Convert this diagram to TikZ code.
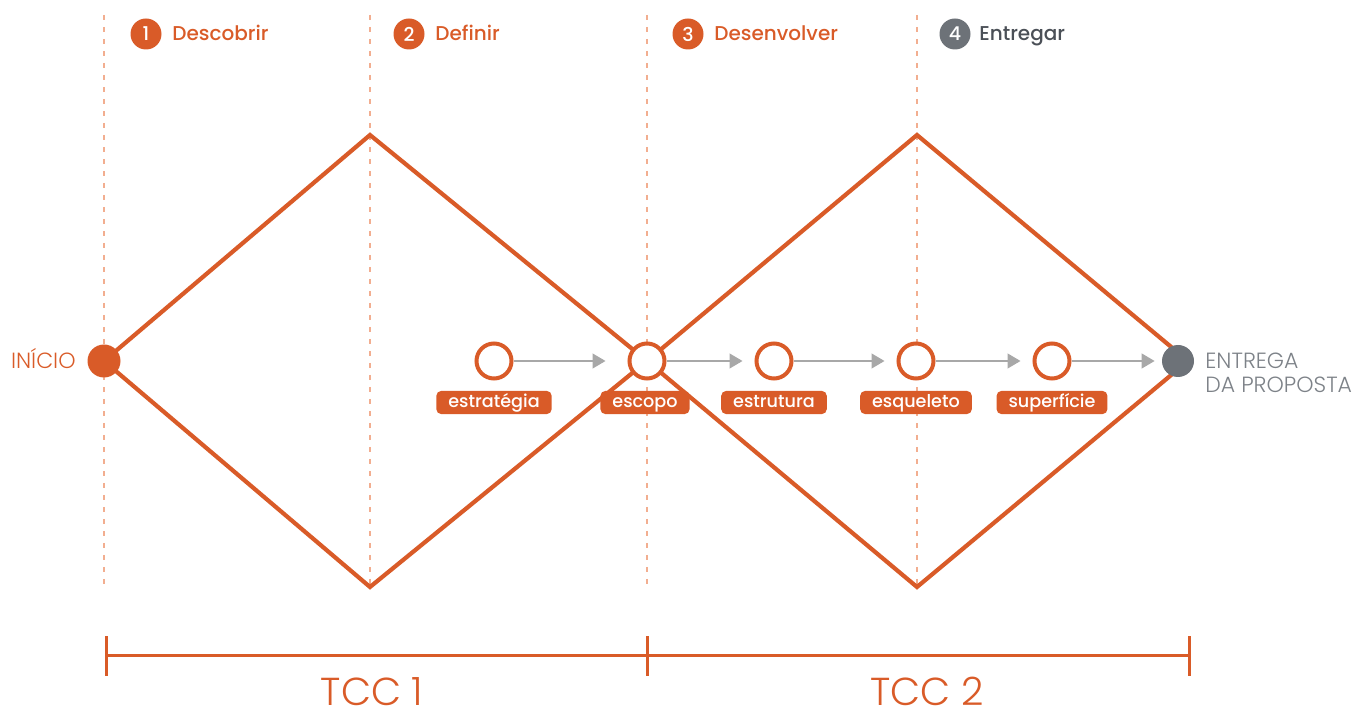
\documentclass[tikz,border=0pt]{standalone}
\usepackage{fontspec}
\setmainfont{Poppins}
\newfontfamily\lightfont{Poppins Light}
\newfontfamily\medfont{Poppins Medium}
\usetikzlibrary{arrows.meta}
\definecolor{dorange}{HTML}{D95B28}
\definecolor{lorange}{HTML}{F2AE90}
\definecolor{dgray}{HTML}{6D7278}
\definecolor{agray}{HTML}{A8A8A8}
\definecolor{tgray}{HTML}{4B5057}
\definecolor{pgray}{HTML}{7D8288}
\tikzset{
  phase/.style={draw=lorange, line width=0.6pt, dash pattern=on 2.5pt off 3.5pt},
  diam/.style={draw=dorange, line width=2.1pt, line join=miter},
  stage/.style={circle, draw=dorange, fill=white, line width=2pt, minimum size=17.5pt, inner sep=0pt},
  startpt/.style={circle, fill=dorange, minimum size=16.5pt, inner sep=0pt},
  endpt/.style={circle, fill=dgray, minimum size=16pt, inner sep=0pt},
  flow/.style={draw=agray, line width=0.65pt, -{Triangle[length=6.5pt, width=7.5pt]}, shorten >=6pt},
  tag/.style={fill=dorange, text=white, rounded corners=2.5pt, inner xsep=6pt, inner ysep=1.5pt,
    text height=6.6pt, text depth=2pt, font=\medfont\fontsize{8.8}{10}\selectfont},
  num/.style={circle, fill=#1, text=white, minimum size=15.5pt, inner sep=0pt,
    font=\medfont\fontsize{9.5}{10}\selectfont},
  head/.style={anchor=base west, inner sep=0pt, text=#1, font=\medfont\fontsize{10}{12}\selectfont},
  side/.style={inner sep=0pt, font=\lightfont\fontsize{11}{13}\selectfont},
  tcc/.style={anchor=base, inner sep=0pt, text=dorange, font=\lightfont\fontsize{19.5}{23}\selectfont},
  bracket/.style={draw=dorange, line width=1.5pt}
}
\begin{document}
\begin{tikzpicture}[x=0.5pt, y=-0.5pt]
\useasboundingbox (0,0) rectangle (1357,711);

% phase separators
\draw[phase] (104,15) -- (104,587);
\draw[phase] (370,15) -- (370,587);
\draw[phase] (647,15) -- (647,587);
\draw[phase] (917,15) -- (917,587);

% the two diamonds
\draw[diam] (104,361) -- (370,135) -- (647,361) -- (370,587) -- cycle;
\draw[diam] (647,361) -- (917,135) -- (1188,361) -- (917,587) -- cycle;

% phase headers
\node[num=dorange] (n1) at (146,34) {1};
\node[head=dorange] (h1) at (172,41) {Descobrir};
\node[num=dorange] (n2) at (409,34) {2};
\node[head=dorange] (h2) at (435,41) {Definir};
\node[num=dorange] (n3) at (688,34) {3};
\node[head=dorange] (h3) at (714,41) {Desenvolver};
\node[num=dgray] (n4) at (955,34) {4};
\node[head=tgray] (h4) at (979,41) {Entregar};

% start and end points
\node[startpt] (start) at (104,361) {};
\node[side, text=dorange, anchor=base east] (startlbl) at (76,369) {INÍCIO};
\node[endpt] (finish) at (1178,361) {};
\node[side, text=pgray, anchor=base west] (endlbl1) at (1205,369) {ENTREGA};
\node[side, text=pgray, anchor=base west] (endlbl2) at (1205,393) {DA PROPOSTA};

% stages
\node[stage] (s1) at (494,361) {};
\node[stage] (s2) at (647,361) {};
\node[stage] (s3) at (774,361) {};
\node[stage] (s4) at (916,361) {};
\node[stage] (s5) at (1052,361) {};

\node[tag] (t1) at (494,402.5) {estratégia};
\node[tag] (t2) at (645,402.5) {escopo};
\node[tag] (t3) at (774,402.5) {estrutura};
\node[tag] (t4) at (916,402.5) {esqueleto};
\node[tag] (t5) at (1052,402.5) {superfície};

% flow arrows
\draw[flow, shorten >=11pt] (s1) -- (s2);
\draw[flow] (s2) -- (s3);
\draw[flow] (s3) -- (s4);
\draw[flow] (s4) -- (s5);
\draw[flow, shorten >=3.5pt] (s5) -- (finish);

% TCC brackets
\coordinate (b0) at (106,656);
\coordinate (b1) at (647,656);
\coordinate (b2) at (1189,656);
\draw[bracket] (b0) -- (b2);
\draw[bracket] ([yshift=-10]b0) -- ([yshift=10]b0);
\draw[bracket] ([yshift=-10]b1) -- ([yshift=10]b1);
\draw[bracket] ([yshift=-10]b2) -- ([yshift=10]b2);
\node[tcc] (tcc1) at (372,705) {TCC 1};
\node[tcc] (tcc2) at (927,705) {TCC 2};
\end{tikzpicture}
\end{document}
